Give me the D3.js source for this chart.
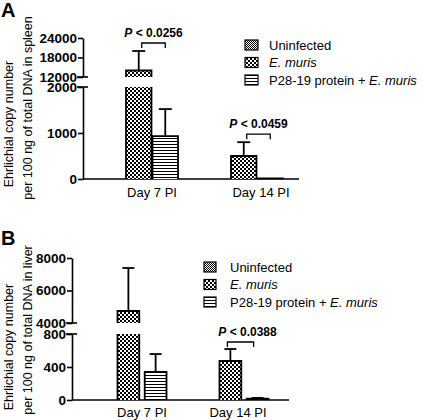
<!DOCTYPE html>
<html>
<head>
<meta charset="utf-8">
<script src="https://cdn.jsdelivr.net/npm/d3@7"></script>
<style>
  html, body { margin: 0; padding: 0; background: #fff; }
  svg { display: block; font-family: "Liberation Sans", Arial, sans-serif; }
</style>
</head>
<body>
<svg id="chart" width="425" height="420"></svg>
<script>
// ---------- DATA ----------
const groups = ["Day 7 PI", "Day 14 PI"];
const seriesNames = ["Uninfected", "E. muris", "P28-19 protein + E. muris"];

// Panel A: spleen
const spleenEmuris = [14000, 500];
const spleenEmurisErr = [20000, 800];
const spleenP28 = [930, 12];
const spleenP28Err = [1520, 12];
const spleenLowTicks = [0, 1000, 2000];
const spleenHighTicks = [12000, 18000, 24000];
const spleenPvalues = ["P < 0.0256", "P < 0.0459"];

// Panel B: liver
const liverEmuris = [4740, 473];
const liverEmurisErr = [7385, 618];
const liverP28 = [340, 15];
const liverP28Err = [557, 25];
const liverLowTicks = [0, 400, 800];
const liverHighTicks = [4000, 6000, 8000];
const liverPvalues = [null, "P < 0.0388"];

// ---------- SETUP ----------
const svg = d3.select("#chart");
const defs = svg.append("defs");

function pattern(id, size, draw) {
  const p = defs.append("pattern").attr("id", id).attr("patternUnits", "userSpaceOnUse")
    .attr("width", size).attr("height", size);
  p.append("rect").attr("width", size).attr("height", size).attr("fill", "#fff");
  draw(p);
}
pattern("pUninf", 2, p => {
  p.append("rect").attr("x", 0).attr("y", 0).attr("width", 1).attr("height", 1).attr("fill", "#000");
  p.append("rect").attr("x", 1).attr("y", 1).attr("width", 1).attr("height", 1).attr("fill", "#000");
});
pattern("pEmuris", 4, p => {
  p.append("rect").attr("x", 0).attr("y", 0).attr("width", 2).attr("height", 2).attr("fill", "#000");
  p.append("rect").attr("x", 2).attr("y", 2).attr("width", 2).attr("height", 2).attr("fill", "#000");
});
pattern("pP28", 3, p => {
  p.append("rect").attr("x", 0).attr("y", 0).attr("width", 3).attr("height", 1).attr("fill", "#000");
});
const fills = ["url(#pUninf)", "url(#pEmuris)", "url(#pP28)"];

function drawPanel(cfg) {
  const g = svg.append("g");
  const yLow = d3.scaleLinear().domain([cfg.lowTicks[0], cfg.lowTicks[cfg.lowTicks.length - 1]]).range(cfg.lowRange);
  const yHigh = d3.scaleLinear().domain([cfg.highTicks[0], cfg.highTicks[cfg.highTicks.length - 1]]).range(cfg.highRange);
  const lowMax = yLow.domain()[1], highMin = yHigh.domain()[0];
  const y = v => v <= lowMax ? yLow(v) : yHigh(v);

  const x0 = d3.scaleBand().domain(groups).range(cfg.groupRange).paddingInner(0).paddingOuter(0);
  const x1 = d3.scaleBand().domain([1, 2]).range([x0.bandwidth() / 2 - cfg.inner, x0.bandwidth() / 2 + cfg.inner]).paddingInner(cfg.innerPad);

  // axes
  const axLow = g.append("g").attr("transform", `translate(${cfg.axisX},0)`)
    .call(d3.axisLeft(yLow).tickValues(cfg.lowTicks).tickSize(5).tickSizeOuter(0).tickFormat(d3.format("d")));
  const axHigh = g.append("g").attr("transform", `translate(${cfg.axisX},0)`)
    .call(d3.axisLeft(yHigh).tickValues(cfg.highTicks).tickSize(5).tickSizeOuter(0).tickFormat(d3.format("d")));
  [axLow, axHigh].forEach(ax => {
    ax.select(".domain").attr("stroke", "#000").attr("stroke-width", 1.6);
    ax.selectAll(".tick line").attr("stroke", "#000").attr("stroke-width", 1.6);
    ax.selectAll(".tick text").attr("font-size", 13.5).attr("font-weight", "bold").attr("fill", "#000").attr("x", -6);
  });
  // break marks
  [yLow(lowMax), yHigh(highMin)].forEach(yy => {
    g.append("line").attr("x1", cfg.axisX - 6).attr("x2", cfg.axisX + 5).attr("y1", yy).attr("y2", yy)
      .attr("stroke", "#000").attr("stroke-width", 1.6);
  });
  // baseline
  g.append("line").attr("x1", cfg.axisX).attr("x2", cfg.axisEnd).attr("y1", yLow(0)).attr("y2", yLow(0))
    .attr("stroke", "#000").attr("stroke-width", 1.6);

  // bars
  const seriesVals = [[cfg.emuris, cfg.emurisErr, 1], [cfg.p28, cfg.p28Err, 2]];
  groups.forEach((grp, gi) => {
    seriesVals.forEach(([vals, errs, si]) => {
      const v = vals[gi], e = errs[gi];
      const bx = x0(grp) + x1(si), bw = x1.bandwidth();
      const segs = v <= lowMax ? [[0, v, true]] : [[0, lowMax, false], [highMin, v, true]];
      segs.forEach(([a, b, top]) => {
        const yb = y(b);
        const yBottom = a === 0 ? yLow(0) : yHigh(a);
        g.append("rect").attr("x", bx).attr("y", yb).attr("width", bw).attr("height", Math.max(0, yBottom - yb))
          .attr("fill", fills[si]);
        const path = d3.path();
        path.moveTo(bx, yBottom); path.lineTo(bx, yb);
        if (top) path.lineTo(bx + bw, yb); else path.moveTo(bx + bw, yb);
        path.lineTo(bx + bw, yBottom);
        g.append("path").attr("d", path.toString()).attr("fill", "none").attr("stroke", "#000").attr("stroke-width", 1.8);
      });
      // error bar
      const cx = bx + bw / 2;
      if (e > v) {
        g.append("line").attr("x1", cx).attr("x2", cx).attr("y1", y(v)).attr("y2", y(e)).attr("stroke", "#000").attr("stroke-width", 1.8);
        g.append("line").attr("x1", cx - cfg.cap / 2).attr("x2", cx + cfg.cap / 2).attr("y1", y(e)).attr("y2", y(e)).attr("stroke", "#000").attr("stroke-width", 1.8);
      }
    });
    // significance
    const p = cfg.pvals[gi];
    if (p) {
      const xa = x0(grp) + x1(1) + x1.bandwidth() / 2 + cfg.brOff[0];
      const xb = x0(grp) + x1(2) + x1.bandwidth() / 2 + cfg.brOff[1];
      const yTop = y(cfg.emurisErr[gi]) - cfg.brGap;
      g.append("path").attr("d", `M${xa},${yTop + 5}V${yTop}H${xb}V${yTop + 5}`)
        .attr("fill", "none").attr("stroke", "#000").attr("stroke-width", 1.3);
      const t = g.append("text").attr("x", (xa + xb) / 2 + cfg.pTextOff).attr("y", yTop - 6)
        .attr("text-anchor", "middle").attr("font-size", 12).attr("font-weight", "bold");
      t.append("tspan").attr("font-style", "italic").text(p.split(" ")[0]);
      t.append("tspan").text(" " + p.split(" ").slice(1).join(" "));
    }
    // category label
    g.append("text").attr("x", x0(grp) + x0.bandwidth() / 2 + cfg.catOff[gi]).attr("y", cfg.catY)
      .attr("text-anchor", "middle").attr("font-size", 13).text(grp);
  });

  // y label
  cfg.ylabel.forEach(line => {
    g.append("text").attr("transform", `translate(${line.x},${line.y}) rotate(-90)`)
      .attr("text-anchor", "middle").attr("dominant-baseline", "central")
      .attr("font-size", 12.5).text(line.t);
  });
  // panel letter
  g.append("text").attr("x", 1).attr("y", cfg.letterY).attr("font-size", 20).attr("font-weight", "bold").text(cfg.letter);

  // legend
  seriesNames.forEach((name, i) => {
    const ly = cfg.legY + i * cfg.legStep;
    g.append("rect").attr("x", cfg.legX).attr("y", ly - 5).attr("width", cfg.swW).attr("height", 10)
      .attr("fill", fills[i]).attr("stroke", "#000").attr("stroke-width", 1.2);
    const t = g.append("text").attr("x", cfg.legTextX).attr("y", ly + 4.5).attr("font-size", 13);
    const idx = name.indexOf("E. muris");
    if (idx >= 0) {
      if (idx > 0) t.append("tspan").text(name.slice(0, idx));
      t.append("tspan").attr("font-style", "italic").text("E. muris");
    } else t.text(name);
  });
}

drawPanel({
  letter: "A", letterY: 17,
  lowTicks: spleenLowTicks, highTicks: spleenHighTicks,
  lowRange: [179, 87], highRange: [77, 38],
  axisX: 83, axisEnd: 299,
  groupRange: [99.5, 309.5], inner: 26, innerPad: 0.04, cap: 13,
  emuris: spleenEmuris, emurisErr: spleenEmurisErr, p28: spleenP28, p28Err: spleenP28Err,
  pvals: spleenPvalues, brOff: [3, 0], brGap: 8, pTextOff: 0,
  catY: 197, catOff: [0, 4],
  ylabel: [{x: 9, y: 124, t: "Ehrlichial copy number"}, {x: 28, y: 108, t: "per 100 ng of total DNA in spleen"}],
  legX: 245, legTextX: 269, legY: 45, legStep: 17.5, swW: 13
});

drawPanel({
  letter: "B", letterY: 245,
  lowTicks: liverLowTicks, highTicks: liverHighTicks,
  lowRange: [400, 334], highRange: [323, 258],
  axisX: 72, axisEnd: 289,
  groupRange: [91, 295], inner: 24.5, innerPad: 0.2, cap: 12,
  emuris: liverEmuris, emurisErr: liverEmurisErr, p28: liverP28, p28Err: liverP28Err,
  pvals: liverPvalues, brOff: [-3, -4], brGap: 7, pTextOff: 7,
  catY: 417, catOff: [0, -6],
  ylabel: [{x: 9, y: 347, t: "Ehrlichial copy number"}, {x: 28, y: 330, t: "per 100 ng of total DNA in liver"}],
  legX: 204, legTextX: 230, legY: 267, legStep: 17.5, swW: 12
});
</script>
</body>
</html>
